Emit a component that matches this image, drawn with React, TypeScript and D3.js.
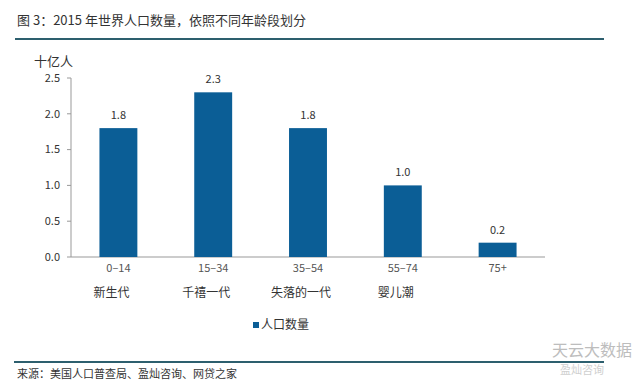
import React, { useRef, useEffect } from 'react';
import * as d3 from 'd3';

const ageGroups = ['0-14', '15-34', '35-54', '55-74', '75+'];
const generations = ['新生代', '千禧一代', '失落的一代', '婴儿潮', ''];
const population = [1.8, 2.3, 1.8, 1.0, 0.2];
const yTicks = [0, 0.5, 1.0, 1.5, 2.0, 2.5];

const FONT = '"Noto Sans CJK SC", "DejaVu Sans", sans-serif';
const BAR = '#0b5e96';

const App = () => {
  const ref = useRef<SVGSVGElement>(null);

  useEffect(() => {
    const svg = d3.select(ref.current)
      .attr('width', 640)
      .attr('height', 387)
      .style('background-color', 'white')
      .style('font-family', FONT);

    svg.selectAll('*').remove();

    // title + rules
    svg.append('text').attr('x', 17).attr('y', 25)
      .style('font-size', '13px').style('fill', '#333')
      .text('图 3：2015 年世界人口数量，依照不同年龄段划分');
    svg.append('line').attr('x1', 15).attr('x2', 604).attr('y1', 39).attr('y2', 39)
      .style('stroke', '#2d5f6e').style('stroke-width', 2);
    svg.append('line').attr('x1', 14).attr('x2', 604).attr('y1', 362).attr('y2', 362)
      .style('stroke', '#2d5f6e').style('stroke-width', 2);
    svg.append('text').attr('x', 17).attr('y', 378)
      .style('font-size', '11px').style('fill', '#333')
      .text('来源：美国人口普查局、盈灿咨询、网贷之家');

    // watermark
    svg.append('text').attr('x', 552).attr('y', 356)
      .style('font-size', '16px').style('fill', '#bdbdbd')
      .text('天云大数据');
    svg.append('text').attr('x', 560).attr('y', 374)
      .style('font-size', '11px').style('fill', '#cfcfcf')
      .text('盈灿咨询');

    const x = d3.scaleBand().domain(ageGroups).range([71, 545]).paddingInner(0.6).paddingOuter(0.3);
    const y = d3.scaleLinear().domain([0, 2.5]).range([257, 78]);

    const chart = svg.append('g');

    // y axis
    chart.append('line').attr('x1', 71).attr('x2', 71).attr('y1', y(2.5)).attr('y2', y(0))
      .style('stroke', '#999');
    chart.selectAll('.ytick').data(yTicks).enter().append('g').each(function (d) {
      const g = d3.select(this);
      g.append('line').attr('x1', 67).attr('x2', 71).attr('y1', y(d)).attr('y2', y(d)).style('stroke', '#999');
      g.append('text').attr('x', 60).attr('y', y(d)).attr('dy', '0.35em')
        .attr('text-anchor', 'end').style('font-size', '11px').style('fill', '#333')
        .text(d3.format('.1f')(d));
    });
    chart.append('text').attr('x', 34).attr('y', 66)
      .style('font-size', '13px').style('fill', '#333').text('十亿人');

    // x axis
    chart.append('line').attr('x1', 71).attr('x2', 545).attr('y1', y(0)).attr('y2', y(0))
      .style('stroke', '#999');

    chart.selectAll('.bar').data(population).enter().append('rect')
      .attr('x', (d, i) => x(ageGroups[i])!)
      .attr('width', x.bandwidth())
      .attr('y', d => y(d))
      .attr('height', d => y(0) - y(d))
      .style('fill', BAR);

    chart.selectAll('.val').data(population).enter().append('text')
      .attr('x', (d, i) => x(ageGroups[i])! + x.bandwidth() / 2)
      .attr('y', d => y(d) - 9)
      .attr('text-anchor', 'middle').style('font-size', '11px').style('fill', '#333')
      .text(d => d3.format('.1f')(d));

    chart.selectAll('.cat').data(ageGroups).enter().append('text')
      .attr('x', d => x(d)! + x.bandwidth() / 2)
      .attr('y', 272)
      .attr('text-anchor', 'middle').style('font-size', '11px').style('fill', '#555')
      .text(d => d.replace('-', '–'));

    chart.selectAll('.gen').data(generations).enter().append('text')
      .attr('x', (d, i) => x(ageGroups[i])! + x.bandwidth() / 2 - 7)
      .attr('y', 297)
      .attr('text-anchor', 'middle').style('font-size', '12px').style('fill', '#333')
      .text(d => d);

    // legend
    const lg = svg.append('g');
    lg.append('rect').attr('x', 253).attr('y', 322).attr('width', 6).attr('height', 6).style('fill', BAR);
    lg.append('text').attr('x', 261).attr('y', 329)
      .style('font-size', '12px').style('fill', '#333').text('人口数量');
  }, []);

  return <svg ref={ref} style={{ position: 'absolute', left: 0, top: 0 }}></svg>;
};

export default App;
